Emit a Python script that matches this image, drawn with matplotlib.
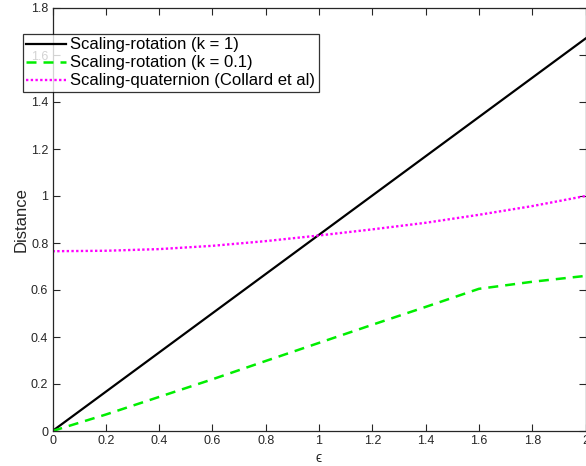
import numpy as np
import matplotlib
matplotlib.use("Agg")
import matplotlib.pyplot as plt

plt.rcParams['font.family'] = ['Liberation Sans', 'DejaVu Sans']

eps = [0.0, 0.2, 0.4, 0.6, 0.8, 1.0, 1.2, 1.4, 1.6, 1.8, 2.0]
rot_k1 = [0.0, 0.167, 0.334, 0.501, 0.668, 0.835, 1.002, 1.169, 1.336, 1.503, 1.67]
rot_k01 = [0.0, 0.07, 0.145, 0.22, 0.298, 0.375, 0.452, 0.528, 0.605, 0.635, 0.66]
quat = [0.765, 0.767, 0.774, 0.788, 0.808, 0.832, 0.858, 0.886, 0.92, 0.957, 1.0]

xticks = [0, 0.2, 0.4, 0.6, 0.8, 1, 1.2, 1.4, 1.6, 1.8, 2]
xticklabels = ['0', '0.2', '0.4', '0.6', '0.8', '1', '1.2', '1.4', '1.6', '1.8', '2']
yticks = [0, 0.2, 0.4, 0.6, 0.8, 1, 1.2, 1.4, 1.6, 1.8]
yticklabels = ['0', '0.2', '0.4', '0.6', '0.8', '1', '1.2', '1.4', '1.6', '1.8']

W, H = 586, 466
fig = plt.figure(figsize=(W/100, H/100), dpi=100)
ax = fig.add_axes([52.5/W, 1-431/H, (585.5-52.5)/W, (431-8)/H])

ax.plot(eps, rot_k1, color='black', lw=1.6, label='Scaling-rotation (k = 1)')
ax.plot(eps, rot_k01, color='#00ee00', lw=1.8, ls=(0, (4, 2.8)), label='Scaling-rotation (k = 0.1)')
ax.plot(eps, quat, color='#ff00ff', lw=1.7, ls=(0, (1, 1)), label='Scaling-quaternion (Collard et al)')

ax.set_xlim(0, 2)
ax.set_ylim(0, 1.8)
ax.set_xticks(xticks)
ax.set_xticklabels(xticklabels)
ax.set_yticks(yticks)
ax.set_yticklabels(yticklabels)
ax.tick_params(direction='in', length=5, width=0.8, top=True, right=True,
               labelsize=9, labelcolor='#262626', color='#262626', pad=3)
for s in ax.spines.values():
    s.set_linewidth(0.9)
    s.set_color('#262626')
ax.set_xlabel('\u03f5', fontsize=10, color='#262626', labelpad=3)
ax.set_ylabel('Distance', fontsize=12, color='#262626', labelpad=2)

leg = ax.legend(loc='upper left', bbox_to_anchor=(23/W, 1-34/H), bbox_transform=fig.transFigure,
                fontsize=12, frameon=True, fancybox=False, edgecolor='black',
                borderpad=0.2, labelspacing=0.18, handlelength=2.4, handletextpad=0.25,
                borderaxespad=0)
leg.get_frame().set_linewidth(0.9)

fig.savefig('out.png', dpi=100)
